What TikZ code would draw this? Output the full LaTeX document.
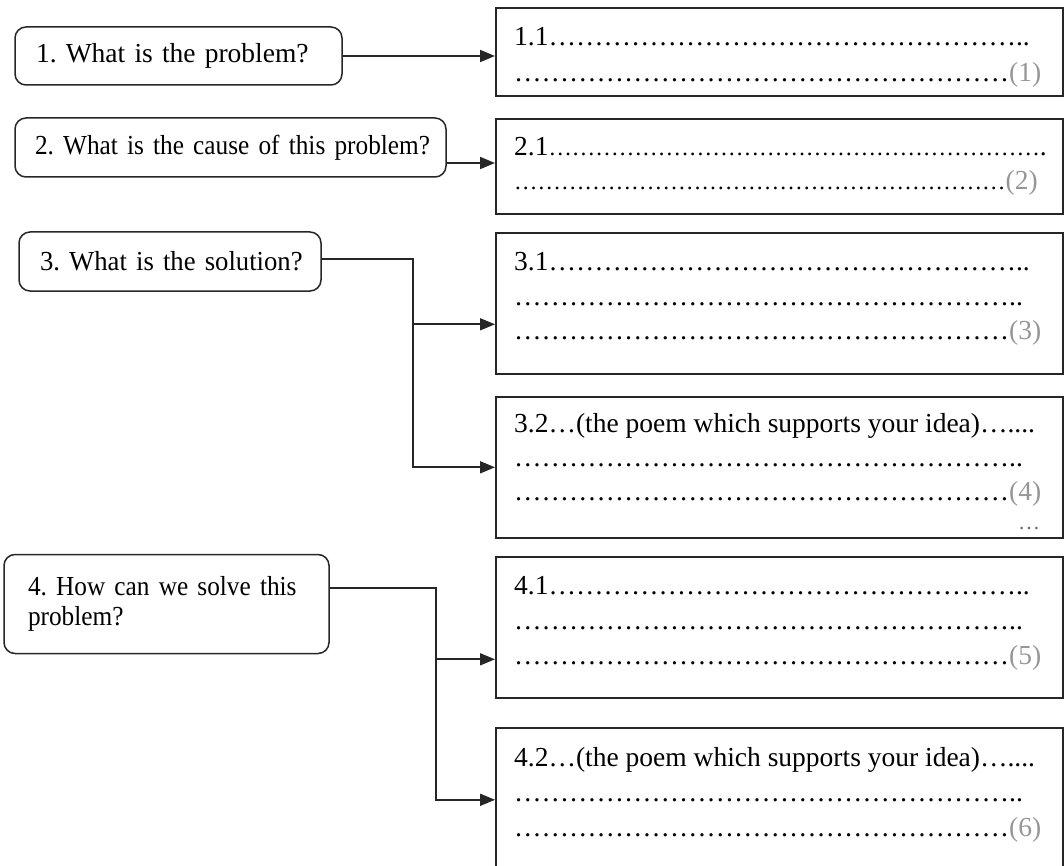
\documentclass[tikz,border=0pt]{standalone}
\usepackage{fontspec}
\setmainfont{Liberation Serif}
\newfontfamily\narrowserif[FakeStretch=0.92]{Liberation Serif}
\newfontfamily\slimserif[FakeStretch=0.97]{Liberation Serif}
\usetikzlibrary{arrows.meta,calc}
\definecolor{frame}{RGB}{38,38,38}
\definecolor{numgray}{RGB}{150,150,150}
\definecolor{tailgray}{RGB}{110,110,110}
% a run of n ellipsis characters
\ExplSyntaxOn
\NewDocumentCommand\ellipsisrun{m}{\prg_replicate:nn{#1}{…}}
\ExplSyntaxOff
\newcommand\finedots[1]{{\fontsize{23.4}{30}\selectfont\ellipsisrun{#1}}}
\newcommand\tagno[1]{\textcolor{numgray}{(#1)}}
\frenchspacing

\begin{document}
\begin{tikzpicture}[x=1pt,y=-1pt,
  font=\fontsize{27.5}{30}\selectfont,
  question/.style={draw=frame, line width=1.5pt, rounded corners=11pt,
    inner xsep=21pt, inner ysep=0pt, align=left},
  answer/.style={draw=frame, line width=1.6pt, rectangle, anchor=north west,
    minimum width=567pt, inner sep=0pt},
  answertext/.style={anchor=base west, inner sep=0pt},
  link/.style={draw=frame, line width=1.8pt},
  tip/.style={-{Triangle[length=15pt,width=12pt]}}]
\useasboundingbox (0,0) rectangle (1064,866);

% questions on the left
\node[question, text width=285pt, minimum height=58pt] (q1) at (178.5,56)
  {\mbox{1. What is the problem?}};
\node[question, inner xsep=20pt, text width=391pt, minimum height=59pt] (q2) at (230.5,147.5)
  {\mbox{\narrowserif 2. What is the cause of this problem?}};
\node[question, text width=260pt, minimum height=59pt] (q3) at (170,261.5)
  {\mbox{\slimserif 3. What is the solution?}};
\node[question, inner xsep=24pt, text width=277pt, minimum height=99pt,
      font=\fontsize{27.5}{30}\selectfont\narrowserif] (q4) at (166.5,604)
  {\mbox{4. How can we solve this}\\\mbox{problem?}};

% answer frames on the right
\node[answer, minimum height=88pt]  (a1)  at (495,7)   {};
\node[answer, minimum height=95pt]  (a2)  at (495,118) {};
\node[answer, minimum height=141pt] (a31) at (495,232) {};
\node[answer, minimum height=141pt] (a32) at (495,396) {};
\node[answer, minimum height=141pt] (a41) at (495,556) {};
\node[answer, minimum height=142pt] (a42) at (495,727) {};

% writing lines inside the frames
\node[answertext] (a1t) at ([xshift=19pt,yshift=-39pt]a1.north west)
  {\parbox[t]{526pt}{\fontsize{27.5}{36}\selectfont
   1.1\ellipsisrun{17}..\\
   \ellipsisrun{18}\tagno{1}}};
\node[answertext] (a2t) at ([xshift=19pt,yshift=-38pt]a2.north west)
  {\parbox[t]{526pt}{\fontsize{27.5}{34}\selectfont
   2.1\finedots{21}.\\
   \finedots{21}\tagno{2}}};
\node[answertext] (a31t) at ([xshift=19pt,yshift=-39pt]a31.north west)
  {\parbox[t]{526pt}{\fontsize{27.5}{34.5}\selectfont
   3.1\ellipsisrun{17}..\\
   \ellipsisrun{18}..\\
   \ellipsisrun{18}\tagno{3}}};
\node[answertext] (a32t) at ([xshift=19pt,yshift=-36pt]a32.north west)
  {\parbox[t]{526pt}{\fontsize{27.5}{34}\selectfont
   3.2…(the poem which supports your idea)…....\\
   \ellipsisrun{18}..\\
   \ellipsisrun{18}\tagno{4}\\[-5pt]
   \hspace*{\fill}{\fontsize{22}{22}\selectfont\textcolor{tailgray}{…}}}};
\node[answertext] (a41t) at ([xshift=19pt,yshift=-38pt]a41.north west)
  {\parbox[t]{526pt}{\fontsize{27.5}{35}\selectfont
   4.1\ellipsisrun{17}..\\
   \ellipsisrun{18}..\\
   \ellipsisrun{18}\tagno{5}}};
\node[answertext] (a42t) at ([xshift=19pt,yshift=-39pt]a42.north west)
  {\parbox[t]{526pt}{\fontsize{27.5}{35}\selectfont
   4.2…(the poem which supports your idea)…....\\
   \ellipsisrun{18}..\\
   \ellipsisrun{18}\tagno{6}}};

% junction rails for the branching questions
\coordinate (rail3) at (413,0);
\coordinate (rail4) at (436,0);
\coordinate (in31) at ([yshift=-21pt]a31.west);
\coordinate (in41) at ([yshift=-32pt]a41.west);
\coordinate (in42) at ([yshift=-1pt]a42.west);

% connectors
\draw[link, tip] (q1.east) -- (q1.east -| a1.west);
\draw[link, tip] ([yshift=-15.5pt]q2.east) -- ([yshift=-15.5pt]q2.east -| a2.west);
\draw[link, tip] ([yshift=2.5pt]q3.east) -| (rail3 |- a32.west) -- (a32.west);
\draw[link, tip] (rail3 |- in31) -- (in31);
\draw[link, tip] ([yshift=16pt]q4.east) -| (rail4 |- in42) -- (in42);
\draw[link, tip] (rail4 |- in41) -- (in41);
\end{tikzpicture}
\end{document}
